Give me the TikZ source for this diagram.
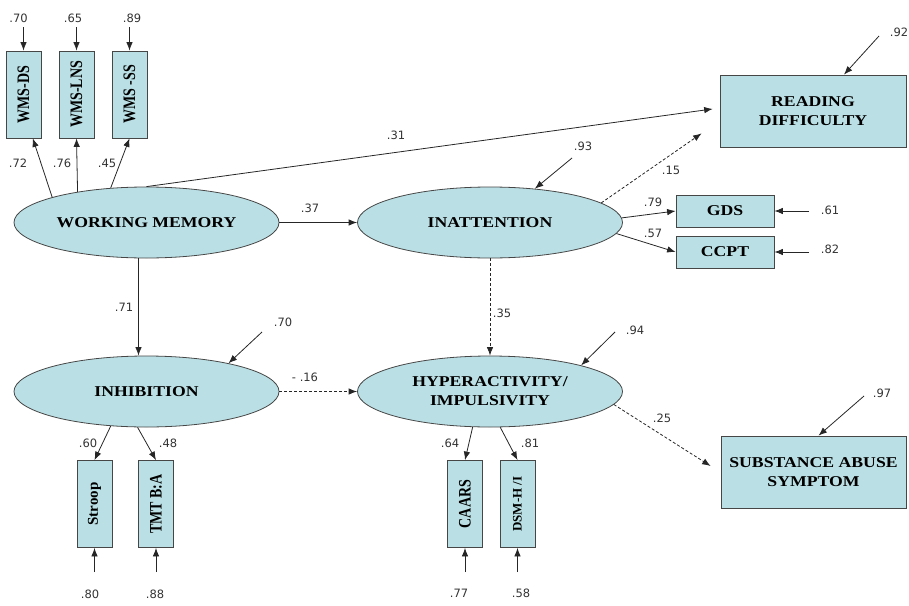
\documentclass[tikz,border=0pt]{standalone}
\usepackage{fontspec}
\setmainfont{Liberation Serif}
\newfontfamily\numfont{DejaVu Sans}
\newfontfamily\widefont{Liberation Serif}[FakeStretch=1.18]
\usetikzlibrary{shapes.geometric,arrows.meta,calc}
\definecolor{boxfill}{RGB}{186,224,229}
\definecolor{edgegray}{RGB}{70,70,70}
% vertical label text, slightly tall across the box
\newcommand\vtxt[1]{\rotatebox{90}{\scalebox{1}[1.25]{#1}}}

\begin{document}
\begin{tikzpicture}[x=1pt,y=-1pt,
  latent/.style={ellipse,draw=edgegray,fill=boxfill,line width=0.8pt,
    minimum width=265pt,minimum height=71pt,inner sep=0pt,align=center,
    font=\widefont\bfseries\fontsize{15}{19}\selectfont},
  obsbox/.style={rectangle,draw=edgegray,fill=boxfill,line width=0.8pt,
    inner sep=0pt,align=center,
    font=\widefont\bfseries\fontsize{15}{19}\selectfont},
  vbox/.style={rectangle,draw=edgegray,fill=boxfill,line width=0.8pt,
    inner sep=0pt,minimum width=35pt,minimum height=87pt,
    font=\bfseries\fontsize{14}{16}\selectfont},
  coef/.style={font=\numfont\fontsize{11.5}{13}\selectfont,text=black!80,inner sep=1pt},
  link/.style={draw=black!85,line width=0.8pt,-{Latex[length=8.5pt,width=6.5pt]}},
  dlink/.style={link,dash pattern=on 3pt off 2pt},
]
\useasboundingbox (0,0) rectangle (909,605);

% latent constructs
\node[latent] (wm)    at (146.5,222.5) {WORKING MEMORY};
\node[latent] (inatt) at (490,222.5)   {INATTENTION};
\node[latent] (inh)   at (146.5,391.5) {INHIBITION};
\node[latent] (hyp)   at (490,391.5)   {HYPERACTIVITY/\\IMPULSIVITY};

% outcome and indicator boxes
\node[obsbox,minimum width=186pt,minimum height=72pt] (reading) at (813,111) {READING\\DIFFICULTY};
\node[obsbox,minimum width=185pt,minimum height=72pt] (subst) at (813.5,472) {SUBSTANCE ABUSE\\SYMPTOM};
\node[obsbox,minimum width=98pt,minimum height=32pt] (gds)  at (725,211) {GDS};
\node[obsbox,minimum width=98pt,minimum height=32pt] (ccpt) at (725,252) {CCPT};

\node[vbox] (wmsds)  at (23.5,94.5)  {\vtxt{WMS-DS}};
\node[vbox] (wmslns) at (76.5,94.5)  {\vtxt{WMS-LNS}};
\node[vbox] (wmsss)  at (129.5,94.5) {\vtxt{WMS -SS}};
\node[vbox] (stroop) at (94.5,504)   {\rotatebox{90}{\fontsize{15}{16}\selectfont Stroop}};
\node[vbox] (tmt)    at (156,504)    {\vtxt{TMT B:A}};
\node[vbox] (caars)  at (465,504)    {\vtxt{CAARS}};
\node[vbox] (dsm)    at (517.5,504)  {\rotatebox{90}{\fontsize{13}{14}\selectfont DSM-H /I}};

% error terms
\coordinate (e70w) at (23.5,27);
\coordinate (e65)  at (76.5,27);
\coordinate (e89)  at (129.5,27);
\coordinate (e93)  at (572,158);
\coordinate (e92)  at (879,36);
\coordinate (e61)  at (809,211);
\coordinate (e82)  at (809,252);
\coordinate (e70i) at (262,332);
\coordinate (e94)  at (615,332);
\coordinate (e97)  at (864,396);
\coordinate (e80)  at (94.5,572);
\coordinate (e88)  at (156,572);
\coordinate (e77)  at (465,572);
\coordinate (e58)  at (517.5,572);

% structural paths
\draw[link] (wm.165) -- (wmsds.-78);
\draw[link] (wm.156) -- (wmslns.south);
\draw[link] (wm.136) -- (wmsss.south);
\draw[link,shorten >=7pt] (wm.north) -- ($(reading.west)+(0,-3)$);
\draw[link] (wm.east) -- (inatt.west);
\draw[link] ($(wm.south)+(-8,0)$) -- ($(inh.north)+(-8,0)$);
\draw[dlink] (inatt.10) -- ($(reading.south west)+(-18,-14)$);
\draw[link] (inatt.2) -- (gds.west);
\draw[link] (inatt.-5) -- (ccpt.west);
\draw[dlink] (inatt.south) -- (hyp.north);
\draw[dlink] (inh.east) -- (hyp.west);
\draw[link] (inh.-136) -- (stroop.north);
\draw[link] (inh.-104) -- (tmt.north);
\draw[link] (hyp.-116) -- (caars.north);
\draw[link] (hyp.-74) -- (dsm.north);
\draw[dlink] (hyp.-6) -- ($(subst.west)+(-10,-6)$);

% residual arrows
\draw[link] (e70w) -- (wmsds.north);
\draw[link] (e65) -- (wmslns.north);
\draw[link] (e89) -- (wmsss.north);
\draw[link] (e93) -- (inatt.37);
\draw[link] (e92) -- ($(reading.north)+(31,0)$);
\draw[link] (e61) -- (gds.east);
\draw[link] (e82) -- (ccpt.east);
\draw[link] (e70i) -- (inh.19);
\draw[link] (e94) -- (hyp.16);
\draw[link] (e97) -- ($(subst.north)+(5,0)$);
\draw[link] (e80) -- (stroop.south);
\draw[link] (e88) -- (tmt.south);
\draw[link] (e77) -- (caars.south);
\draw[link] (e58) -- (dsm.south);

% coefficients
\node[coef] (c70w) at (18.5,18) {.70};
\node[coef] (c65)  at (73,18)   {.65};
\node[coef] (c89)  at (132,18)  {.89};
\node[coef] (c72)  at (18,163)  {.72};
\node[coef] (c76)  at (62,163)  {.76};
\node[coef] (c45)  at (107,163) {.45};
\node[coef] (c31)  at (396,135) {.31};
\node[coef] (c37)  at (310,208) {.37};
\node[coef] (c93)  at (583,146) {.93};
\node[coef] (c92)  at (899,32)  {.92};
\node[coef] (c15)  at (671,170) {.15};
\node[coef] (c79)  at (653,202) {.79};
\node[coef] (c57)  at (653,233) {.57};
\node[coef] (c61)  at (830,210) {.61};
\node[coef] (c82)  at (830,249) {.82};
\node[coef] (c71)  at (124,307) {.71};
\node[coef] (c70i) at (283,322) {.70};
\node[coef] (c16)  at (305,377) {- .16};
\node[coef] (c60)  at (88,443)  {.60};
\node[coef] (c48)  at (168,443) {.48};
\node[coef] (c80)  at (90,594)  {.80};
\node[coef] (c88)  at (155,594) {.88};
\node[coef] (c35)  at (502,313) {.35};
\node[coef] (c94)  at (635,330) {.94};
\node[coef] (c64)  at (450,443) {.64};
\node[coef] (c81)  at (530,443) {.81};
\node[coef] (c25)  at (662,418) {.25};
\node[coef] (c77)  at (459,593) {.77};
\node[coef] (c58)  at (521,593) {.58};
\node[coef] (c97)  at (882,393) {.97};
\end{tikzpicture}
\end{document}
